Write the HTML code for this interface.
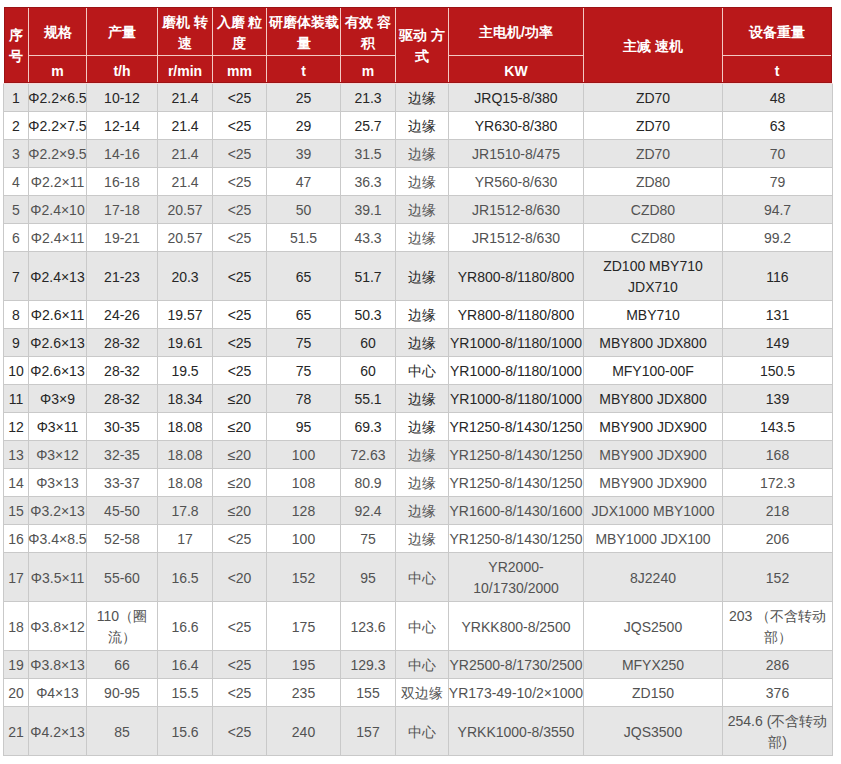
<!DOCTYPE html><html><head><meta charset="utf-8"><style>
html,body{margin:0;padding:0;background:#fff;width:841px;height:764px;overflow:hidden;position:relative;}
body{font-family:"Liberation Sans", sans-serif;font-size:14px;}
.c{position:absolute;display:flex;align-items:center;justify-content:center;text-align:center;line-height:21px;white-space:nowrap;}
.h{color:#fff;font-weight:bold;}.h b{font-weight:bold;}
.r{position:absolute;}
</style></head><body>
<div class="r" style="left:4px;top:7px;width:828px;height:76px;background:#9c1315"></div>
<div class="r" style="left:5px;top:8px;width:826px;height:74px;background:#b9181a"></div>
<div class="r" style="left:28px;top:8px;width:1px;height:74px;background:#f3c9c3"></div>
<div class="r" style="left:86px;top:8px;width:1px;height:74px;background:#f3c9c3"></div>
<div class="r" style="left:157px;top:8px;width:1px;height:74px;background:#f3c9c3"></div>
<div class="r" style="left:212px;top:8px;width:1px;height:74px;background:#f3c9c3"></div>
<div class="r" style="left:266px;top:8px;width:1px;height:74px;background:#f3c9c3"></div>
<div class="r" style="left:340px;top:8px;width:1px;height:74px;background:#f3c9c3"></div>
<div class="r" style="left:395px;top:8px;width:1px;height:74px;background:#f3c9c3"></div>
<div class="r" style="left:448px;top:8px;width:1px;height:74px;background:#f3c9c3"></div>
<div class="r" style="left:583px;top:8px;width:1px;height:74px;background:#f3c9c3"></div>
<div class="r" style="left:722px;top:8px;width:1px;height:74px;background:#f3c9c3"></div>
<div class="r" style="left:29px;top:55px;width:366px;height:1px;background:#f3c9c3"></div>
<div class="r" style="left:449px;top:55px;width:134px;height:1px;background:#f3c9c3"></div>
<div class="r" style="left:723px;top:55px;width:108px;height:1px;background:#f3c9c3"></div>
<div class="c h" style="left:5px;top:9px;width:23px;height:74px;padding-right:2px;box-sizing:border-box;">序<br>号</div>
<div class="c h" style="left:29px;top:9px;width:57px;height:47px;">规格</div>
<div class="c h" style="left:29px;top:58px;width:57px;height:26px;"><b>m</b></div>
<div class="c h" style="left:87px;top:9px;width:70px;height:47px;">产量</div>
<div class="c h" style="left:87px;top:58px;width:70px;height:26px;"><b>t/h</b></div>
<div class="c h" style="left:158px;top:9px;width:54px;height:47px;">磨机 转<br>速</div>
<div class="c h" style="left:158px;top:58px;width:54px;height:26px;"><b>r/min</b></div>
<div class="c h" style="left:213px;top:9px;width:53px;height:47px;">入磨 粒<br>度</div>
<div class="c h" style="left:213px;top:58px;width:53px;height:26px;"><b>mm</b></div>
<div class="c h" style="left:267px;top:9px;width:73px;height:47px;">研磨体装载<br>量</div>
<div class="c h" style="left:267px;top:58px;width:73px;height:26px;"><b>t</b></div>
<div class="c h" style="left:341px;top:9px;width:54px;height:47px;">有效 容<br>积</div>
<div class="c h" style="left:341px;top:58px;width:54px;height:26px;"><b>m</b></div>
<div class="c h" style="left:396px;top:9px;width:52px;height:74px;">驱动 方<br>式</div>
<div class="c h" style="left:449px;top:9px;width:134px;height:47px;">主电机/功率</div>
<div class="c h" style="left:449px;top:58px;width:134px;height:26px;"><b>KW</b></div>
<div class="c h" style="left:584px;top:9px;width:138px;height:74px;">主减 速机</div>
<div class="c h" style="left:723px;top:9px;width:108px;height:47px;">设备重量</div>
<div class="c h" style="left:723px;top:58px;width:108px;height:26px;"><b>t</b></div>
<div class="r" style="left:3px;top:83px;width:830px;height:1px;background:#f4dada"></div>
<div class="r" style="left:4px;top:84px;width:828px;height:27px;background:#e6e6e6"></div>
<div class="r" style="left:4px;top:112px;width:828px;height:27px;background:#ffffff"></div>
<div class="r" style="left:3px;top:111px;width:830px;height:1px;background:#c9c9c9"></div>
<div class="r" style="left:4px;top:140px;width:828px;height:27px;background:#e6e6e6"></div>
<div class="r" style="left:3px;top:139px;width:830px;height:1px;background:#c9c9c9"></div>
<div class="r" style="left:4px;top:168px;width:828px;height:27px;background:#ffffff"></div>
<div class="r" style="left:3px;top:167px;width:830px;height:1px;background:#c9c9c9"></div>
<div class="r" style="left:4px;top:196px;width:828px;height:27px;background:#e6e6e6"></div>
<div class="r" style="left:3px;top:195px;width:830px;height:1px;background:#c9c9c9"></div>
<div class="r" style="left:4px;top:224px;width:828px;height:27px;background:#ffffff"></div>
<div class="r" style="left:3px;top:223px;width:830px;height:1px;background:#c9c9c9"></div>
<div class="r" style="left:4px;top:252px;width:828px;height:48px;background:#e6e6e6"></div>
<div class="r" style="left:3px;top:251px;width:830px;height:1px;background:#c9c9c9"></div>
<div class="r" style="left:4px;top:301px;width:828px;height:27px;background:#ffffff"></div>
<div class="r" style="left:3px;top:300px;width:830px;height:1px;background:#c9c9c9"></div>
<div class="r" style="left:4px;top:329px;width:828px;height:27px;background:#e6e6e6"></div>
<div class="r" style="left:3px;top:328px;width:830px;height:1px;background:#c9c9c9"></div>
<div class="r" style="left:4px;top:357px;width:828px;height:27px;background:#ffffff"></div>
<div class="r" style="left:3px;top:356px;width:830px;height:1px;background:#c9c9c9"></div>
<div class="r" style="left:4px;top:385px;width:828px;height:27px;background:#e6e6e6"></div>
<div class="r" style="left:3px;top:384px;width:830px;height:1px;background:#c9c9c9"></div>
<div class="r" style="left:4px;top:413px;width:828px;height:27px;background:#ffffff"></div>
<div class="r" style="left:3px;top:412px;width:830px;height:1px;background:#c9c9c9"></div>
<div class="r" style="left:4px;top:441px;width:828px;height:27px;background:#e6e6e6"></div>
<div class="r" style="left:3px;top:440px;width:830px;height:1px;background:#c9c9c9"></div>
<div class="r" style="left:4px;top:469px;width:828px;height:27px;background:#ffffff"></div>
<div class="r" style="left:3px;top:468px;width:830px;height:1px;background:#c9c9c9"></div>
<div class="r" style="left:4px;top:497px;width:828px;height:27px;background:#e6e6e6"></div>
<div class="r" style="left:3px;top:496px;width:830px;height:1px;background:#c9c9c9"></div>
<div class="r" style="left:4px;top:525px;width:828px;height:27px;background:#ffffff"></div>
<div class="r" style="left:3px;top:524px;width:830px;height:1px;background:#c9c9c9"></div>
<div class="r" style="left:4px;top:553px;width:828px;height:48px;background:#e6e6e6"></div>
<div class="r" style="left:3px;top:552px;width:830px;height:1px;background:#c9c9c9"></div>
<div class="r" style="left:4px;top:602px;width:828px;height:48px;background:#ffffff"></div>
<div class="r" style="left:3px;top:601px;width:830px;height:1px;background:#c9c9c9"></div>
<div class="r" style="left:4px;top:651px;width:828px;height:27px;background:#e6e6e6"></div>
<div class="r" style="left:3px;top:650px;width:830px;height:1px;background:#c9c9c9"></div>
<div class="r" style="left:4px;top:679px;width:828px;height:27px;background:#ffffff"></div>
<div class="r" style="left:3px;top:678px;width:830px;height:1px;background:#c9c9c9"></div>
<div class="r" style="left:4px;top:707px;width:828px;height:48px;background:#e6e6e6"></div>
<div class="r" style="left:3px;top:706px;width:830px;height:1px;background:#c9c9c9"></div>
<div class="r" style="left:3px;top:755px;width:830px;height:1px;background:#c9c9c9"></div>
<div class="r" style="left:3px;top:84px;width:1px;height:672px;background:#c9c9c9"></div>
<div class="r" style="left:28px;top:84px;width:1px;height:672px;background:#c9c9c9"></div>
<div class="r" style="left:86px;top:84px;width:1px;height:672px;background:#c9c9c9"></div>
<div class="r" style="left:157px;top:84px;width:1px;height:672px;background:#c9c9c9"></div>
<div class="r" style="left:212px;top:84px;width:1px;height:672px;background:#c9c9c9"></div>
<div class="r" style="left:266px;top:84px;width:1px;height:672px;background:#c9c9c9"></div>
<div class="r" style="left:340px;top:84px;width:1px;height:672px;background:#c9c9c9"></div>
<div class="r" style="left:395px;top:84px;width:1px;height:672px;background:#c9c9c9"></div>
<div class="r" style="left:448px;top:84px;width:1px;height:672px;background:#c9c9c9"></div>
<div class="r" style="left:583px;top:84px;width:1px;height:672px;background:#c9c9c9"></div>
<div class="r" style="left:722px;top:84px;width:1px;height:672px;background:#c9c9c9"></div>
<div class="r" style="left:832px;top:84px;width:1px;height:672px;background:#c9c9c9"></div>
<div class="c " style="left:4px;top:85px;width:24px;height:27px;color:#262626">1</div>
<div class="c " style="left:29px;top:85px;width:57px;height:27px;color:#262626">Φ2.2×6.5</div>
<div class="c " style="left:87px;top:85px;width:70px;height:27px;color:#262626">10-12</div>
<div class="c " style="left:158px;top:85px;width:54px;height:27px;color:#262626">21.4</div>
<div class="c " style="left:213px;top:85px;width:53px;height:27px;color:#262626">&lt;25</div>
<div class="c " style="left:267px;top:85px;width:73px;height:27px;color:#262626">25</div>
<div class="c " style="left:341px;top:85px;width:54px;height:27px;color:#262626">21.3</div>
<div class="c " style="left:396px;top:85px;width:52px;height:27px;color:#262626">边缘</div>
<div class="c " style="left:449px;top:85px;width:134px;height:27px;color:#262626">JRQ15-8/380</div>
<div class="c " style="left:584px;top:85px;width:138px;height:27px;color:#262626">ZD70</div>
<div class="c " style="left:723px;top:85px;width:109px;height:27px;color:#262626">48</div>
<div class="c " style="left:4px;top:113px;width:24px;height:27px;color:#262626">2</div>
<div class="c " style="left:29px;top:113px;width:57px;height:27px;color:#262626">Φ2.2×7.5</div>
<div class="c " style="left:87px;top:113px;width:70px;height:27px;color:#262626">12-14</div>
<div class="c " style="left:158px;top:113px;width:54px;height:27px;color:#262626">21.4</div>
<div class="c " style="left:213px;top:113px;width:53px;height:27px;color:#262626">&lt;25</div>
<div class="c " style="left:267px;top:113px;width:73px;height:27px;color:#262626">29</div>
<div class="c " style="left:341px;top:113px;width:54px;height:27px;color:#262626">25.7</div>
<div class="c " style="left:396px;top:113px;width:52px;height:27px;color:#262626">边缘</div>
<div class="c " style="left:449px;top:113px;width:134px;height:27px;color:#262626">YR630-8/380</div>
<div class="c " style="left:584px;top:113px;width:138px;height:27px;color:#262626">ZD70</div>
<div class="c " style="left:723px;top:113px;width:109px;height:27px;color:#262626">63</div>
<div class="c " style="left:4px;top:141px;width:24px;height:27px;color:#525252">3</div>
<div class="c " style="left:29px;top:141px;width:57px;height:27px;color:#525252">Φ2.2×9.5</div>
<div class="c " style="left:87px;top:141px;width:70px;height:27px;color:#525252">14-16</div>
<div class="c " style="left:158px;top:141px;width:54px;height:27px;color:#525252">21.4</div>
<div class="c " style="left:213px;top:141px;width:53px;height:27px;color:#525252">&lt;25</div>
<div class="c " style="left:267px;top:141px;width:73px;height:27px;color:#525252">39</div>
<div class="c " style="left:341px;top:141px;width:54px;height:27px;color:#525252">31.5</div>
<div class="c " style="left:396px;top:141px;width:52px;height:27px;color:#525252">边缘</div>
<div class="c " style="left:449px;top:141px;width:134px;height:27px;color:#525252">JR1510-8/475</div>
<div class="c " style="left:584px;top:141px;width:138px;height:27px;color:#525252">ZD70</div>
<div class="c " style="left:723px;top:141px;width:109px;height:27px;color:#525252">70</div>
<div class="c " style="left:4px;top:169px;width:24px;height:27px;color:#525252">4</div>
<div class="c " style="left:29px;top:169px;width:57px;height:27px;color:#525252">Φ2.2×11</div>
<div class="c " style="left:87px;top:169px;width:70px;height:27px;color:#525252">16-18</div>
<div class="c " style="left:158px;top:169px;width:54px;height:27px;color:#525252">21.4</div>
<div class="c " style="left:213px;top:169px;width:53px;height:27px;color:#525252">&lt;25</div>
<div class="c " style="left:267px;top:169px;width:73px;height:27px;color:#525252">47</div>
<div class="c " style="left:341px;top:169px;width:54px;height:27px;color:#525252">36.3</div>
<div class="c " style="left:396px;top:169px;width:52px;height:27px;color:#525252">边缘</div>
<div class="c " style="left:449px;top:169px;width:134px;height:27px;color:#525252">YR560-8/630</div>
<div class="c " style="left:584px;top:169px;width:138px;height:27px;color:#525252">ZD80</div>
<div class="c " style="left:723px;top:169px;width:109px;height:27px;color:#525252">79</div>
<div class="c " style="left:4px;top:197px;width:24px;height:27px;color:#525252">5</div>
<div class="c " style="left:29px;top:197px;width:57px;height:27px;color:#525252">Φ2.4×10</div>
<div class="c " style="left:87px;top:197px;width:70px;height:27px;color:#525252">17-18</div>
<div class="c " style="left:158px;top:197px;width:54px;height:27px;color:#525252">20.57</div>
<div class="c " style="left:213px;top:197px;width:53px;height:27px;color:#525252">&lt;25</div>
<div class="c " style="left:267px;top:197px;width:73px;height:27px;color:#525252">50</div>
<div class="c " style="left:341px;top:197px;width:54px;height:27px;color:#525252">39.1</div>
<div class="c " style="left:396px;top:197px;width:52px;height:27px;color:#525252">边缘</div>
<div class="c " style="left:449px;top:197px;width:134px;height:27px;color:#525252">JR1512-8/630</div>
<div class="c " style="left:584px;top:197px;width:138px;height:27px;color:#525252">CZD80</div>
<div class="c " style="left:723px;top:197px;width:109px;height:27px;color:#525252">94.7</div>
<div class="c " style="left:4px;top:225px;width:24px;height:27px;color:#525252">6</div>
<div class="c " style="left:29px;top:225px;width:57px;height:27px;color:#525252">Φ2.4×11</div>
<div class="c " style="left:87px;top:225px;width:70px;height:27px;color:#525252">19-21</div>
<div class="c " style="left:158px;top:225px;width:54px;height:27px;color:#525252">20.57</div>
<div class="c " style="left:213px;top:225px;width:53px;height:27px;color:#525252">&lt;25</div>
<div class="c " style="left:267px;top:225px;width:73px;height:27px;color:#525252">51.5</div>
<div class="c " style="left:341px;top:225px;width:54px;height:27px;color:#525252">43.3</div>
<div class="c " style="left:396px;top:225px;width:52px;height:27px;color:#525252">边缘</div>
<div class="c " style="left:449px;top:225px;width:134px;height:27px;color:#525252">JR1512-8/630</div>
<div class="c " style="left:584px;top:225px;width:138px;height:27px;color:#525252">CZD80</div>
<div class="c " style="left:723px;top:225px;width:109px;height:27px;color:#525252">99.2</div>
<div class="c " style="left:4px;top:253px;width:24px;height:48px;color:#262626">7</div>
<div class="c " style="left:29px;top:253px;width:57px;height:48px;color:#262626">Φ2.4×13</div>
<div class="c " style="left:87px;top:253px;width:70px;height:48px;color:#262626">21-23</div>
<div class="c " style="left:158px;top:253px;width:54px;height:48px;color:#262626">20.3</div>
<div class="c " style="left:213px;top:253px;width:53px;height:48px;color:#262626">&lt;25</div>
<div class="c " style="left:267px;top:253px;width:73px;height:48px;color:#262626">65</div>
<div class="c " style="left:341px;top:253px;width:54px;height:48px;color:#262626">51.7</div>
<div class="c " style="left:396px;top:253px;width:52px;height:48px;color:#262626">边缘</div>
<div class="c " style="left:449px;top:253px;width:134px;height:48px;color:#262626">YR800-8/1180/800</div>
<div class="c " style="left:584px;top:253px;width:138px;height:48px;color:#262626">ZD100 MBY710<br>JDX710</div>
<div class="c " style="left:723px;top:253px;width:109px;height:48px;color:#262626">116</div>
<div class="c " style="left:4px;top:302px;width:24px;height:27px;color:#262626">8</div>
<div class="c " style="left:29px;top:302px;width:57px;height:27px;color:#262626">Φ2.6×11</div>
<div class="c " style="left:87px;top:302px;width:70px;height:27px;color:#262626">24-26</div>
<div class="c " style="left:158px;top:302px;width:54px;height:27px;color:#262626">19.57</div>
<div class="c " style="left:213px;top:302px;width:53px;height:27px;color:#262626">&lt;25</div>
<div class="c " style="left:267px;top:302px;width:73px;height:27px;color:#262626">65</div>
<div class="c " style="left:341px;top:302px;width:54px;height:27px;color:#262626">50.3</div>
<div class="c " style="left:396px;top:302px;width:52px;height:27px;color:#262626">边缘</div>
<div class="c " style="left:449px;top:302px;width:134px;height:27px;color:#262626">YR800-8/1180/800</div>
<div class="c " style="left:584px;top:302px;width:138px;height:27px;color:#262626">MBY710</div>
<div class="c " style="left:723px;top:302px;width:109px;height:27px;color:#262626">131</div>
<div class="c " style="left:4px;top:330px;width:24px;height:27px;color:#262626">9</div>
<div class="c " style="left:29px;top:330px;width:57px;height:27px;color:#262626">Φ2.6×13</div>
<div class="c " style="left:87px;top:330px;width:70px;height:27px;color:#262626">28-32</div>
<div class="c " style="left:158px;top:330px;width:54px;height:27px;color:#262626">19.61</div>
<div class="c " style="left:213px;top:330px;width:53px;height:27px;color:#262626">&lt;25</div>
<div class="c " style="left:267px;top:330px;width:73px;height:27px;color:#262626">75</div>
<div class="c " style="left:341px;top:330px;width:54px;height:27px;color:#262626">60</div>
<div class="c " style="left:396px;top:330px;width:52px;height:27px;color:#262626">边缘</div>
<div class="c " style="left:449px;top:330px;width:134px;height:27px;color:#262626">YR1000-8/1180/1000</div>
<div class="c " style="left:584px;top:330px;width:138px;height:27px;color:#262626">MBY800 JDX800</div>
<div class="c " style="left:723px;top:330px;width:109px;height:27px;color:#262626">149</div>
<div class="c " style="left:4px;top:358px;width:24px;height:27px;color:#262626">10</div>
<div class="c " style="left:29px;top:358px;width:57px;height:27px;color:#262626">Φ2.6×13</div>
<div class="c " style="left:87px;top:358px;width:70px;height:27px;color:#262626">28-32</div>
<div class="c " style="left:158px;top:358px;width:54px;height:27px;color:#262626">19.5</div>
<div class="c " style="left:213px;top:358px;width:53px;height:27px;color:#262626">&lt;25</div>
<div class="c " style="left:267px;top:358px;width:73px;height:27px;color:#262626">75</div>
<div class="c " style="left:341px;top:358px;width:54px;height:27px;color:#262626">60</div>
<div class="c " style="left:396px;top:358px;width:52px;height:27px;color:#262626">中心</div>
<div class="c " style="left:449px;top:358px;width:134px;height:27px;color:#262626">YR1000-8/1180/1000</div>
<div class="c " style="left:584px;top:358px;width:138px;height:27px;color:#262626">MFY100-00F</div>
<div class="c " style="left:723px;top:358px;width:109px;height:27px;color:#262626">150.5</div>
<div class="c " style="left:4px;top:386px;width:24px;height:27px;color:#262626">11</div>
<div class="c " style="left:29px;top:386px;width:57px;height:27px;color:#262626">Φ3×9</div>
<div class="c " style="left:87px;top:386px;width:70px;height:27px;color:#262626">28-32</div>
<div class="c " style="left:158px;top:386px;width:54px;height:27px;color:#262626">18.34</div>
<div class="c " style="left:213px;top:386px;width:53px;height:27px;color:#262626">≤20</div>
<div class="c " style="left:267px;top:386px;width:73px;height:27px;color:#262626">78</div>
<div class="c " style="left:341px;top:386px;width:54px;height:27px;color:#262626">55.1</div>
<div class="c " style="left:396px;top:386px;width:52px;height:27px;color:#262626">边缘</div>
<div class="c " style="left:449px;top:386px;width:134px;height:27px;color:#262626">YR1000-8/1180/1000</div>
<div class="c " style="left:584px;top:386px;width:138px;height:27px;color:#262626">MBY800 JDX800</div>
<div class="c " style="left:723px;top:386px;width:109px;height:27px;color:#262626">139</div>
<div class="c " style="left:4px;top:414px;width:24px;height:27px;color:#262626">12</div>
<div class="c " style="left:29px;top:414px;width:57px;height:27px;color:#262626">Φ3×11</div>
<div class="c " style="left:87px;top:414px;width:70px;height:27px;color:#262626">30-35</div>
<div class="c " style="left:158px;top:414px;width:54px;height:27px;color:#262626">18.08</div>
<div class="c " style="left:213px;top:414px;width:53px;height:27px;color:#262626">≤20</div>
<div class="c " style="left:267px;top:414px;width:73px;height:27px;color:#262626">95</div>
<div class="c " style="left:341px;top:414px;width:54px;height:27px;color:#262626">69.3</div>
<div class="c " style="left:396px;top:414px;width:52px;height:27px;color:#262626">边缘</div>
<div class="c " style="left:449px;top:414px;width:134px;height:27px;color:#262626">YR1250-8/1430/1250</div>
<div class="c " style="left:584px;top:414px;width:138px;height:27px;color:#262626">MBY900 JDX900</div>
<div class="c " style="left:723px;top:414px;width:109px;height:27px;color:#262626">143.5</div>
<div class="c " style="left:4px;top:442px;width:24px;height:27px;color:#525252">13</div>
<div class="c " style="left:29px;top:442px;width:57px;height:27px;color:#525252">Φ3×12</div>
<div class="c " style="left:87px;top:442px;width:70px;height:27px;color:#525252">32-35</div>
<div class="c " style="left:158px;top:442px;width:54px;height:27px;color:#525252">18.08</div>
<div class="c " style="left:213px;top:442px;width:53px;height:27px;color:#525252">≤20</div>
<div class="c " style="left:267px;top:442px;width:73px;height:27px;color:#525252">100</div>
<div class="c " style="left:341px;top:442px;width:54px;height:27px;color:#525252">72.63</div>
<div class="c " style="left:396px;top:442px;width:52px;height:27px;color:#525252">边缘</div>
<div class="c " style="left:449px;top:442px;width:134px;height:27px;color:#525252">YR1250-8/1430/1250</div>
<div class="c " style="left:584px;top:442px;width:138px;height:27px;color:#525252">MBY900 JDX900</div>
<div class="c " style="left:723px;top:442px;width:109px;height:27px;color:#525252">168</div>
<div class="c " style="left:4px;top:470px;width:24px;height:27px;color:#525252">14</div>
<div class="c " style="left:29px;top:470px;width:57px;height:27px;color:#525252">Φ3×13</div>
<div class="c " style="left:87px;top:470px;width:70px;height:27px;color:#525252">33-37</div>
<div class="c " style="left:158px;top:470px;width:54px;height:27px;color:#525252">18.08</div>
<div class="c " style="left:213px;top:470px;width:53px;height:27px;color:#525252">≤20</div>
<div class="c " style="left:267px;top:470px;width:73px;height:27px;color:#525252">108</div>
<div class="c " style="left:341px;top:470px;width:54px;height:27px;color:#525252">80.9</div>
<div class="c " style="left:396px;top:470px;width:52px;height:27px;color:#525252">边缘</div>
<div class="c " style="left:449px;top:470px;width:134px;height:27px;color:#525252">YR1250-8/1430/1250</div>
<div class="c " style="left:584px;top:470px;width:138px;height:27px;color:#525252">MBY900 JDX900</div>
<div class="c " style="left:723px;top:470px;width:109px;height:27px;color:#525252">172.3</div>
<div class="c " style="left:4px;top:498px;width:24px;height:27px;color:#525252">15</div>
<div class="c " style="left:29px;top:498px;width:57px;height:27px;color:#525252">Φ3.2×13</div>
<div class="c " style="left:87px;top:498px;width:70px;height:27px;color:#525252">45-50</div>
<div class="c " style="left:158px;top:498px;width:54px;height:27px;color:#525252">17.8</div>
<div class="c " style="left:213px;top:498px;width:53px;height:27px;color:#525252">≤20</div>
<div class="c " style="left:267px;top:498px;width:73px;height:27px;color:#525252">128</div>
<div class="c " style="left:341px;top:498px;width:54px;height:27px;color:#525252">92.4</div>
<div class="c " style="left:396px;top:498px;width:52px;height:27px;color:#525252">边缘</div>
<div class="c " style="left:449px;top:498px;width:134px;height:27px;color:#525252">YR1600-8/1430/1600</div>
<div class="c " style="left:584px;top:498px;width:138px;height:27px;color:#525252">JDX1000 MBY1000</div>
<div class="c " style="left:723px;top:498px;width:109px;height:27px;color:#525252">218</div>
<div class="c " style="left:4px;top:526px;width:24px;height:27px;color:#525252">16</div>
<div class="c " style="left:29px;top:526px;width:57px;height:27px;color:#525252">Φ3.4×8.5</div>
<div class="c " style="left:87px;top:526px;width:70px;height:27px;color:#525252">52-58</div>
<div class="c " style="left:158px;top:526px;width:54px;height:27px;color:#525252">17</div>
<div class="c " style="left:213px;top:526px;width:53px;height:27px;color:#525252">&lt;25</div>
<div class="c " style="left:267px;top:526px;width:73px;height:27px;color:#525252">100</div>
<div class="c " style="left:341px;top:526px;width:54px;height:27px;color:#525252">75</div>
<div class="c " style="left:396px;top:526px;width:52px;height:27px;color:#525252">边缘</div>
<div class="c " style="left:449px;top:526px;width:134px;height:27px;color:#525252">YR1250-8/1430/1250</div>
<div class="c " style="left:584px;top:526px;width:138px;height:27px;color:#525252">MBY1000 JDX100</div>
<div class="c " style="left:723px;top:526px;width:109px;height:27px;color:#525252">206</div>
<div class="c " style="left:4px;top:554px;width:24px;height:48px;color:#525252">17</div>
<div class="c " style="left:29px;top:554px;width:57px;height:48px;color:#525252">Φ3.5×11</div>
<div class="c " style="left:87px;top:554px;width:70px;height:48px;color:#525252">55-60</div>
<div class="c " style="left:158px;top:554px;width:54px;height:48px;color:#525252">16.5</div>
<div class="c " style="left:213px;top:554px;width:53px;height:48px;color:#525252">&lt;20</div>
<div class="c " style="left:267px;top:554px;width:73px;height:48px;color:#525252">152</div>
<div class="c " style="left:341px;top:554px;width:54px;height:48px;color:#525252">95</div>
<div class="c " style="left:396px;top:554px;width:52px;height:48px;color:#525252">中心</div>
<div class="c " style="left:449px;top:554px;width:134px;height:48px;color:#525252">YR2000-<br>10/1730/2000</div>
<div class="c " style="left:584px;top:554px;width:138px;height:48px;color:#525252">8J2240</div>
<div class="c " style="left:723px;top:554px;width:109px;height:48px;color:#525252">152</div>
<div class="c " style="left:4px;top:603px;width:24px;height:48px;color:#525252">18</div>
<div class="c " style="left:29px;top:603px;width:57px;height:48px;color:#525252">Φ3.8×12</div>
<div class="c " style="left:87px;top:603px;width:70px;height:48px;color:#525252">110（圈<br>流）</div>
<div class="c " style="left:158px;top:603px;width:54px;height:48px;color:#525252">16.6</div>
<div class="c " style="left:213px;top:603px;width:53px;height:48px;color:#525252">&lt;25</div>
<div class="c " style="left:267px;top:603px;width:73px;height:48px;color:#525252">175</div>
<div class="c " style="left:341px;top:603px;width:54px;height:48px;color:#525252">123.6</div>
<div class="c " style="left:396px;top:603px;width:52px;height:48px;color:#525252">中心</div>
<div class="c " style="left:449px;top:603px;width:134px;height:48px;color:#525252">YRKK800-8/2500</div>
<div class="c " style="left:584px;top:603px;width:138px;height:48px;color:#525252">JQS2500</div>
<div class="c " style="left:723px;top:603px;width:109px;height:48px;color:#525252">203 （不含转动<br>部）</div>
<div class="c " style="left:4px;top:652px;width:24px;height:27px;color:#525252">19</div>
<div class="c " style="left:29px;top:652px;width:57px;height:27px;color:#525252">Φ3.8×13</div>
<div class="c " style="left:87px;top:652px;width:70px;height:27px;color:#525252">66</div>
<div class="c " style="left:158px;top:652px;width:54px;height:27px;color:#525252">16.4</div>
<div class="c " style="left:213px;top:652px;width:53px;height:27px;color:#525252">&lt;25</div>
<div class="c " style="left:267px;top:652px;width:73px;height:27px;color:#525252">195</div>
<div class="c " style="left:341px;top:652px;width:54px;height:27px;color:#525252">129.3</div>
<div class="c " style="left:396px;top:652px;width:52px;height:27px;color:#525252">中心</div>
<div class="c " style="left:449px;top:652px;width:134px;height:27px;color:#525252">YR2500-8/1730/2500</div>
<div class="c " style="left:584px;top:652px;width:138px;height:27px;color:#525252">MFYX250</div>
<div class="c " style="left:723px;top:652px;width:109px;height:27px;color:#525252">286</div>
<div class="c " style="left:4px;top:680px;width:24px;height:27px;color:#525252">20</div>
<div class="c " style="left:29px;top:680px;width:57px;height:27px;color:#525252">Φ4×13</div>
<div class="c " style="left:87px;top:680px;width:70px;height:27px;color:#525252">90-95</div>
<div class="c " style="left:158px;top:680px;width:54px;height:27px;color:#525252">15.5</div>
<div class="c " style="left:213px;top:680px;width:53px;height:27px;color:#525252">&lt;25</div>
<div class="c " style="left:267px;top:680px;width:73px;height:27px;color:#525252">235</div>
<div class="c " style="left:341px;top:680px;width:54px;height:27px;color:#525252">155</div>
<div class="c " style="left:396px;top:680px;width:52px;height:27px;color:#525252">双边缘</div>
<div class="c " style="left:449px;top:680px;width:134px;height:27px;color:#525252">YR173-49-10/2×1000</div>
<div class="c " style="left:584px;top:680px;width:138px;height:27px;color:#525252">ZD150</div>
<div class="c " style="left:723px;top:680px;width:109px;height:27px;color:#525252">376</div>
<div class="c " style="left:4px;top:708px;width:24px;height:48px;color:#525252">21</div>
<div class="c " style="left:29px;top:708px;width:57px;height:48px;color:#525252">Φ4.2×13</div>
<div class="c " style="left:87px;top:708px;width:70px;height:48px;color:#525252">85</div>
<div class="c " style="left:158px;top:708px;width:54px;height:48px;color:#525252">15.6</div>
<div class="c " style="left:213px;top:708px;width:53px;height:48px;color:#525252">&lt;25</div>
<div class="c " style="left:267px;top:708px;width:73px;height:48px;color:#525252">240</div>
<div class="c " style="left:341px;top:708px;width:54px;height:48px;color:#525252">157</div>
<div class="c " style="left:396px;top:708px;width:52px;height:48px;color:#525252">中心</div>
<div class="c " style="left:449px;top:708px;width:134px;height:48px;color:#525252">YRKK1000-8/3550</div>
<div class="c " style="left:584px;top:708px;width:138px;height:48px;color:#525252">JQS3500</div>
<div class="c " style="left:723px;top:708px;width:109px;height:48px;color:#525252">254.6 (不含转动<br>部)</div>
</body></html>
